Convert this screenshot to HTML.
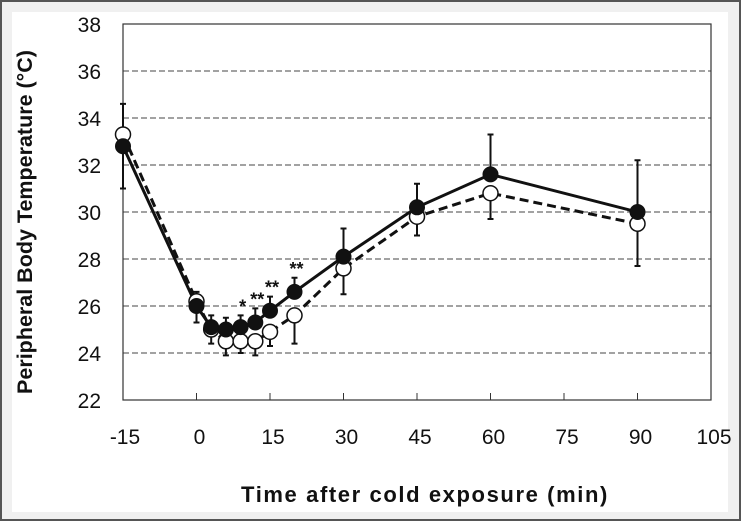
<!DOCTYPE html>
<html><head><meta charset="utf-8"><style>
body{margin:0;background:#f0f0f0;}
svg{display:block;font-family:"Liberation Sans","Noto Sans CJK JP",sans-serif;}
</style></head><body>
<svg id="c" width="741" height="521">
<rect x="0" y="0" width="741" height="521" fill="#f0f0f0"/>
<rect x="1" y="1" width="739" height="519" fill="none" stroke="#555" stroke-width="2"/>
<rect x="12" y="12" width="716" height="500" fill="#fff"/>
<g id="grid"></g><g id="axes"></g><g id="series"></g>
<text x="32" y="222" transform="rotate(-90 32 222)" text-anchor="middle" font-size="21.5" font-weight="bold" fill="#111">Peripheral Body Temperature (°C)</text>
<text x="425" y="502" text-anchor="middle" font-size="22" font-weight="bold" letter-spacing="1.6" fill="#111">Time after cold exposure (min)</text>
</svg>
<script>
const times=[-15,0,3,6,9,12,15,20,30,45,60,90];
const coldTemp=[32.8,26.0,25.1,25.0,25.1,25.3,25.8,26.6,28.1,30.2,31.6,30.0];
const coldSd=[-1.8,0.6,0.5,0.5,0.5,0.6,0.6,0.6,1.2,1.0,1.7,2.2];
const ctrlTemp=[33.3,26.2,25.0,24.5,24.5,24.5,24.9,25.6,27.6,29.8,30.8,29.5];
const ctrlSd=[-1.3,0.9,0.6,0.6,0.5,0.6,0.6,1.2,1.1,0.8,1.1,1.8];
const stars=["","","","","*","**","**","**","","","",""];
const yTicks=[22,24,26,28,30,32,34,36,38];
const xTicks=[-15,0,15,30,45,60,75,90,105];
const NS="http://www.w3.org/2000/svg";
const X=v=>123+(v+15)*4.9, Y=v=>400-(v-22)*23.5;
function mk(p,t,a){const e=document.createElementNS(NS,t);for(const k in a)e.setAttribute(k,a[k]);p.appendChild(e);return e;}
const g=document.getElementById('grid'),ax=document.getElementById('axes'),s=document.getElementById('series');
yTicks.forEach(v=>{
 if(v>22&&v<38){const l=mk(g,'line',{x1:123,x2:711,y1:Y(v),y2:Y(v),stroke:'#444','stroke-width':1,'stroke-dasharray':'6 3'});
 
 }
 const t=mk(ax,'text',{x:101,y:Y(v)+8,'text-anchor':'end','font-size':21,fill:'#111'});t.textContent=v;
 
 
});
const fr=mk(ax,'rect',{x:123,y:Y(38),width:588,height:Y(22)-Y(38),fill:'none',stroke:'#333','stroke-width':1.2});


xTicks.forEach(v=>{
 const tk=mk(ax,'line',{x1:X(v),x2:X(v),y1:Y(22),y2:Y(22)-7,stroke:'#333'});
 
 
 const t=mk(ax,'text',{x:X(v)+(v==-15?2:3),y:444,'text-anchor':'middle','font-size':21,fill:'#111'});t.textContent=v;
 
 
});
times.forEach((t,i)=>{
 const x=X(t);
 const e1=mk(s,'path',{d:`M${x},${Y(coldTemp[i])}V${Y(coldTemp[i]+coldSd[i])}M${x-3},${Y(coldTemp[i]+coldSd[i])}h6`,stroke:'#111','stroke-width':2,fill:'none'});
 
 
 const e2=mk(s,'path',{d:`M${x},${Y(ctrlTemp[i])}V${Y(ctrlTemp[i]-ctrlSd[i])}M${x-3},${Y(ctrlTemp[i]-ctrlSd[i])}h6`,stroke:'#111','stroke-width':2,fill:'none'});
 
 
});
const p2=mk(s,'polyline',{points:times.map((t,i)=>X(t)+','+Y(ctrlTemp[i])).join(' '),fill:'none',stroke:'#111','stroke-width':3,'stroke-dasharray':'9 5'});


const p1=mk(s,'polyline',{points:times.map((t,i)=>X(t)+','+Y(coldTemp[i])).join(' '),fill:'none',stroke:'#111','stroke-width':3});


times.forEach((t,i)=>{
 const c2=mk(s,'circle',{cx:X(t),cy:Y(ctrlTemp[i]),r:7.5,fill:'#fff',stroke:'#111','stroke-width':1.5});
 
 
 const c1=mk(s,'circle',{cx:X(t),cy:Y(coldTemp[i]),r:7.5,fill:'#111',stroke:'#111','stroke-width':1});
 
 
 if(stars[i]){const st=mk(s,'text',{x:X(t)+2,y:Y(coldTemp[i]+coldSd[i])-3,'text-anchor':'middle','font-size':18,'font-weight':'bold',fill:'#111'});st.textContent=stars[i];
 
 }
});
</script>
</body></html>
